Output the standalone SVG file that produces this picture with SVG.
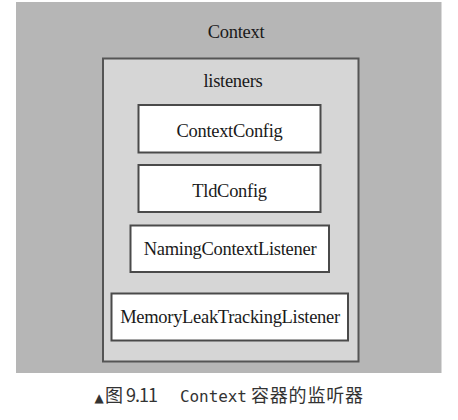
<svg xmlns="http://www.w3.org/2000/svg" width="458" height="420" viewBox="0 0 458 420">
<style>
.lbl{font-family:"Liberation Serif","Times New Roman",serif;font-size:18.5px;letter-spacing:-0.3px;fill:#1a1a1a;text-anchor:middle}
.box{fill:#ffffff;stroke:#4a4a4a;stroke-width:2}
.cap{font-family:"Noto Sans CJK SC","Noto Sans",sans-serif;font-size:18px;fill:#333333}
.mono{font-family:"DejaVu Sans Mono","Liberation Mono",monospace;font-size:16px}
</style>
<rect width="458" height="420" fill="#ffffff"/>
<g id="context">
<rect x="16" y="2" width="425.5" height="371" fill="#b6b6b6"/>
<text class="lbl" x="236" y="38">Context</text>
</g>
<g id="listeners">
<rect x="103" y="58.5" width="255.5" height="303" fill="#d6d6d6" stroke="#555555" stroke-width="2"/>
<text class="lbl" x="233" y="87">listeners</text>
</g>
<g id="contextconfig">
<rect class="box" x="138.5" y="105" width="182" height="47.5"/>
<text class="lbl" x="229.5" y="137">ContextConfig</text>
</g>
<g id="tldconfig">
<rect class="box" x="138.5" y="165" width="182" height="47"/>
<text class="lbl" x="229.5" y="197">TldConfig</text>
</g>
<g id="namingcontextlistener">
<rect class="box" x="130.5" y="225.5" width="198.5" height="46.5"/>
<text class="lbl" x="230" y="255">NamingContextListener</text>
</g>
<g id="memoryleaktrackinglistener">
<rect class="box" x="111.5" y="293.5" width="236.5" height="47"/>
<text class="lbl" x="230" y="323">MemoryLeakTrackingListener</text>
</g>
<g id="connectors"></g>
<text class="cap" y="402"><tspan x="94.5" font-family="DejaVu Sans,sans-serif" font-size="12">▲</tspan><tspan x="105">图</tspan><tspan x="126" textLength="32">9.11</tspan><tspan class="mono" x="180" textLength="67">Context</tspan><tspan x="251" textLength="112">容器的监听器</tspan></text>
</svg>
